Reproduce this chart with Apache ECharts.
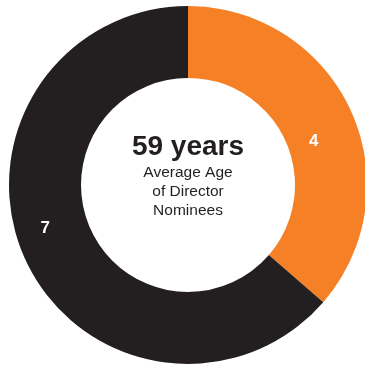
<!DOCTYPE html>
<html>
<head>
<meta charset="utf-8">
<script src="https://cdn.jsdelivr.net/npm/echarts@6/dist/echarts.min.js"></script>
<style>html,body{margin:0;padding:0;background:#fff}#c{width:365px;height:370px}</style>
</head>
<body>
<div id="c"></div>
<script>
var categories = ['Group A', 'Group B'];
var values = [4, 7];
var colors = ['#F58026', '#231F20'];
var centerTitle = '59 years';
var centerSub = ['Average Age', 'of Director', 'Nominees'];

var labelOffsets = [[-7, 17], [-10, -17]];
var chart = echarts.init(document.getElementById('c'), null, {renderer: 'canvas'});
var data = categories.map(function (c, i) {
  return {
    name: c, value: values[i],
    itemStyle: {color: colors[i]},
    label: {offset: labelOffsets[i]}
  };
});
chart.setOption({
  animation: false,
  series: [{
    type: 'pie',
    center: [188, 185],
    radius: [107, 179],
    startAngle: 90,
    clockwise: true,
    silent: true,
    label: {
      show: true, position: 'inside', formatter: '{c}',
      color: '#fff', fontSize: 17, fontWeight: 'bold',
      fontFamily: 'Liberation Sans, Arial, sans-serif'
    },
    labelLine: {show: false},
    itemStyle: {borderWidth: 0},
    data: data
  }],
  graphic: [
    {
      type: 'text', x: 188, y: 147,
      style: {
        text: centerTitle, fill: '#231F20', align: 'center', verticalAlign: 'middle',
        font: 'bold 28px "Liberation Sans", Arial, sans-serif'
      }
    },
    {
      type: 'text', x: 188, y: 192,
      style: {
        text: centerSub.join('\n'), fill: '#231F20', align: 'center', verticalAlign: 'middle',
        font: '15.5px "Liberation Sans", Arial, sans-serif', lineHeight: 19
      }
    }
  ]
});
</script>
</body>
</html>
